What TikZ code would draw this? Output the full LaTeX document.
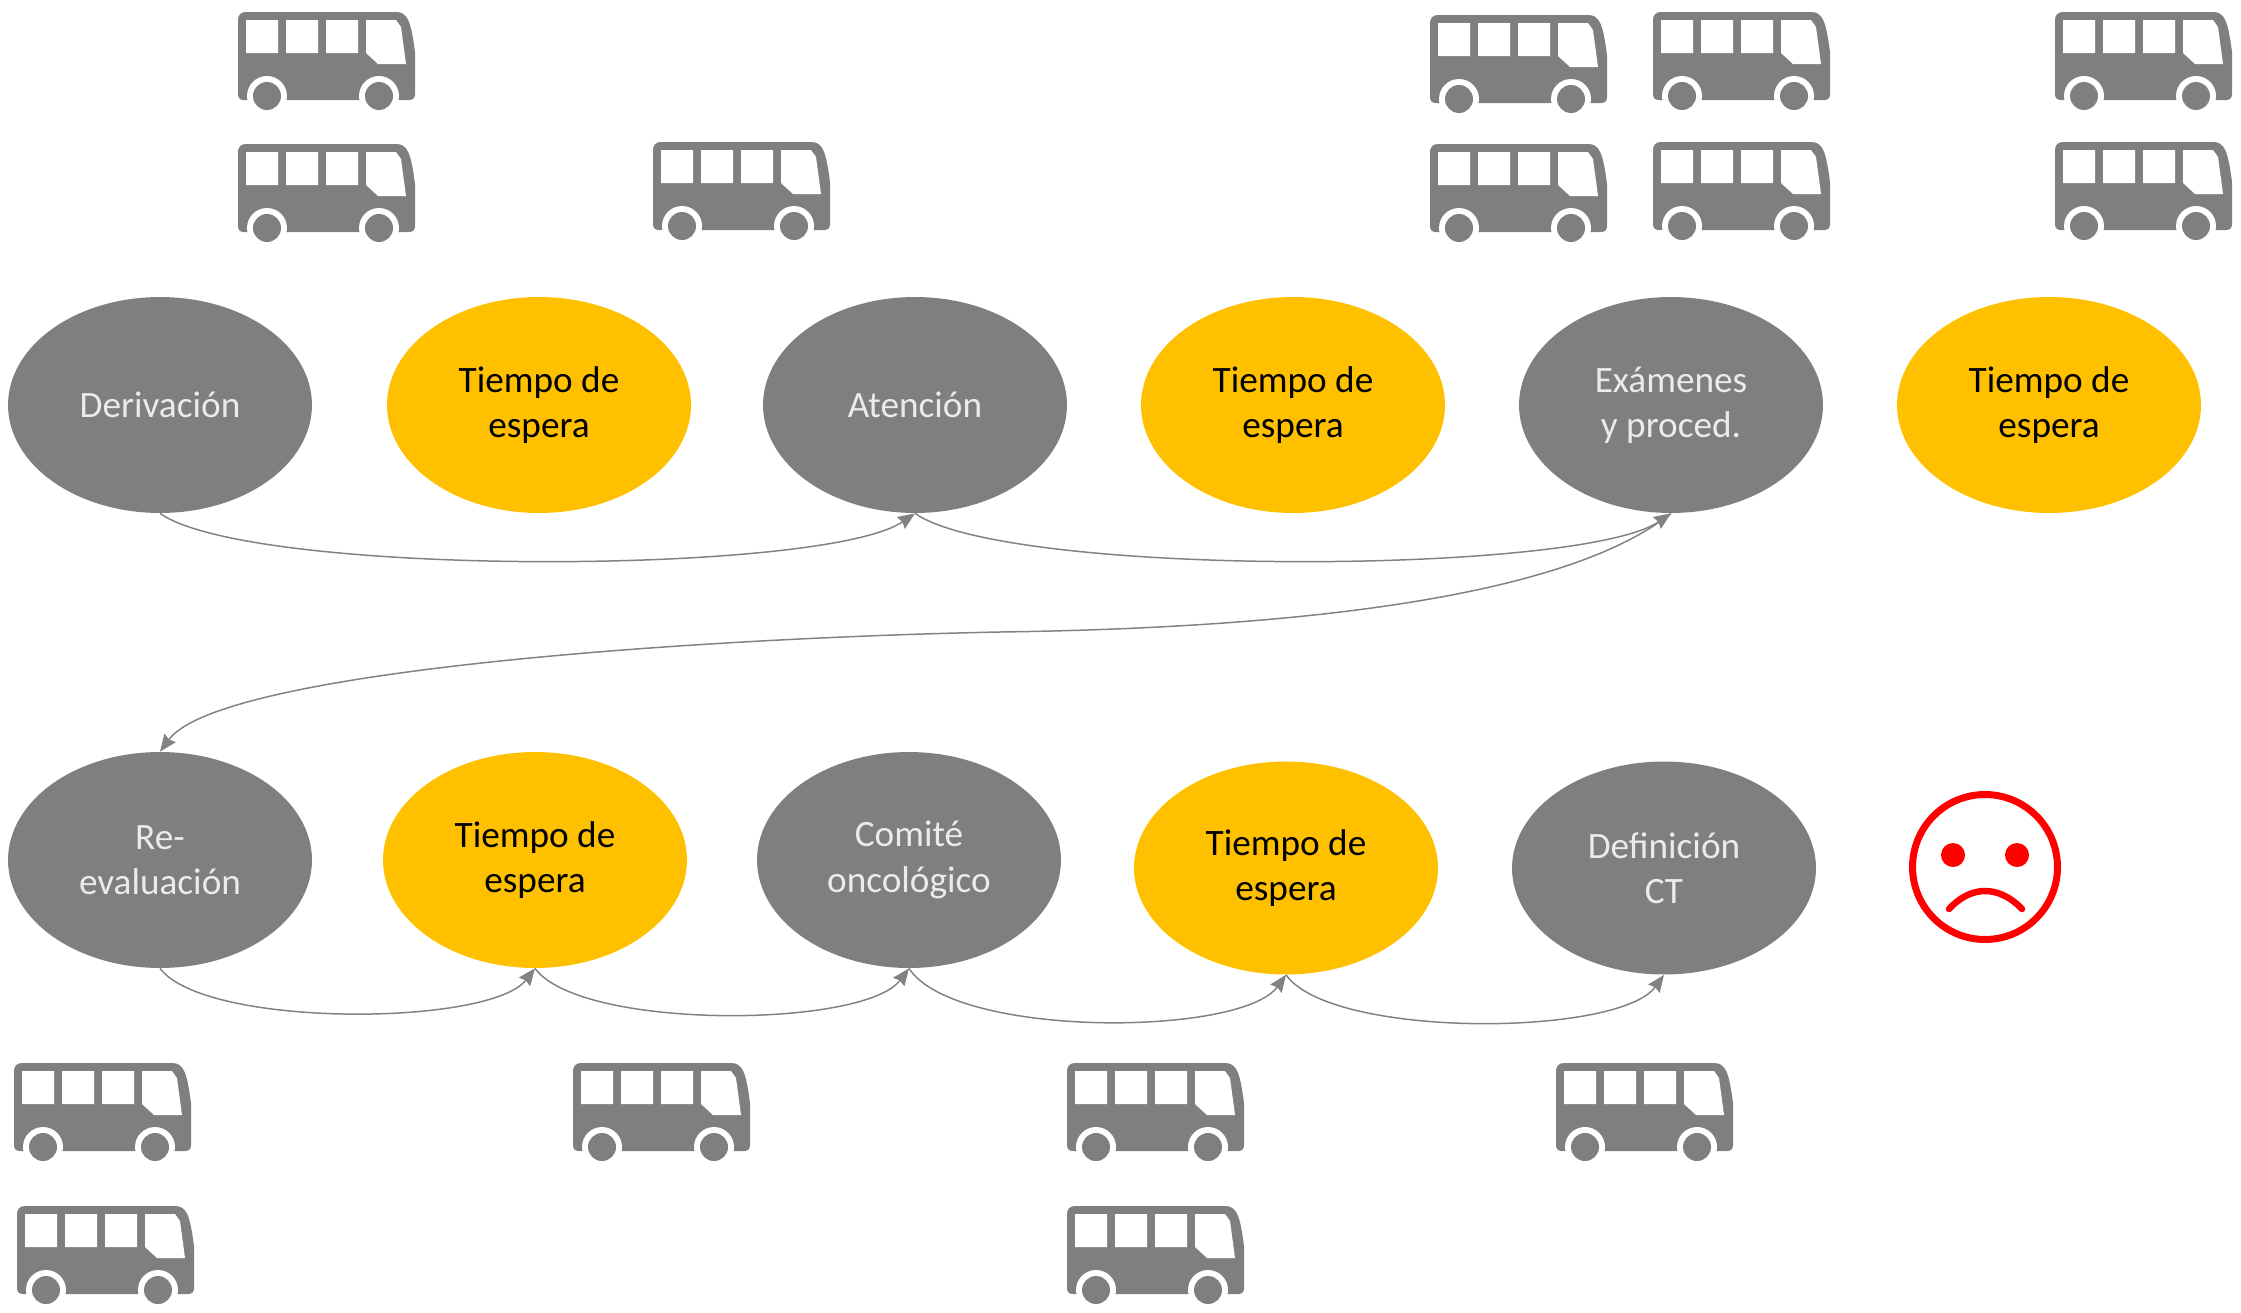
\documentclass[tikz,border=0pt]{standalone}
\usepackage{fontspec}
\setmainfont{Carlito}
\definecolor{stagegray}{RGB}{127, 127, 127}
\definecolor{waitamber}{RGB}{255, 192, 0}
\definecolor{stagetext}{RGB}{235, 235, 235}
\definecolor{linkgray}{RGB}{130, 130, 130}
\usetikzlibrary{shapes.geometric, arrows.meta}
\tikzset{
    stage/.style={ellipse, fill=stagegray, text=stagetext, inner sep=0pt,
        minimum width=6.08cm, minimum height=4.32cm, align=center,
        font=\fontsize{21.2}{25.8}\selectfont},
    waiting/.style={stage, fill=waitamber, text=black},
    link/.style={draw=linkgray, line width=.85pt,
        -{Stealth[length=.34cm, width=.28cm, inset=1pt]}},
    bus/.pic={
        \fill[stagegray] (0, 8) .. controls (0, 3) and (3, 0) .. (8, 0)
            -- (158, 0) .. controls (170, 0) and (173, 10) .. (177, 40)
            -- (177, 82) .. controls (177, 86) and (175, 88) .. (171, 88)
            -- (6, 88) .. controls (2, 88) and (0, 86) .. (0, 82) -- cycle;
        \fill[white] (29, 84) circle (.4cm) (141, 84) circle (.4cm);
        \fill[stagegray] (29, 84) circle (.28cm) (141, 84) circle (.28cm);
        \fill[white] (8, 8) rectangle (40, 41) (48, 8) rectangle (80, 41)
            (88, 8) rectangle (120, 41);
        \fill[white] (128, 8) -- (158, 8) -- (163, 15) -- (168, 52)
            -- (140, 52) -- (128, 41) -- cycle;
    },
    sadface/.pic={
        \draw[red, line width=.14cm] (0, 0) circle (1.45cm);
        \fill[red] (-32, -12) circle (.24cm) (32, -12) circle (.24cm);
        \draw[red, line width=.13cm, line cap=round] (-36, 42)
            .. controls (-14, 18) and (14, 18) .. (37, 42);
    },
}
\begin{document}
\begin{tikzpicture}[x=.02cm, y=-.02cm]
            \useasboundingbox (0, 0) rectangle (2241, 1312);
            \foreach \bx/\by in {238/12, 238/144, 653/142, 1430/15, 1653/12,
                1430/144, 1653/142, 2055/12, 2055/142, 14/1063, 17/1206,
                573/1063, 1067/1063, 1556/1063, 1067/1206}
                \pic at (\bx, \by) {bus};
            % first row
            \node[stage] (derivacion) at (160, 405) {Derivación};
            \node[waiting] (espera1) at (539, 405) {Tiempo de\\espera};
            \node[stage] (atencion) at (915, 405) {Atención};
            \node[waiting] (espera2) at (1293, 405) {Tiempo de\\espera};
            \node[stage] (examenes) at (1671, 405) {Exámenes\\y proced.};
            \node[waiting] (espera3) at (2049, 405) {Tiempo de\\espera};
            % second row
            \node[stage] (reeval) at (160, 860) {Re-\\evaluación};
            \node[waiting] (espera4) at (535, 860) {Tiempo de\\espera};
            \node[stage] (comite) at (909, 860) {Comité\\oncológico};
            \node[waiting, minimum height=4.26cm] (espera5) at (1286, 868)
                {Tiempo de\\espera};
            \node[stage, minimum height=4.26cm] (definicion) at (1664, 868)
                {Definición\\CT};
            \pic at (1985, 867) {sadface};
            \draw[link] (derivacion.south) .. controls +(90, 64) and +(-91, 62)
                .. (atencion.south);
            \draw[link] (atencion.south) .. controls +(90, 64) and +(-91, 62)
                .. (examenes.south);
            \draw[link] (examenes.south) .. controls +(-90, 72) and +(360, -5)
                .. (1000, 632) .. controls (700, 638) and (220, 670)
                .. (reeval.north);
            \draw[link] (reeval.south) .. controls +(45, 60) and +(-45, 58)
                .. (espera4.south);
            \draw[link] (espera4.south) .. controls +(45, 62) and +(-45, 60)
                .. (comite.south);
            \draw[link] (comite.south) .. controls +(45, 70) and +(-45, 62)
                .. (espera5.south);
            \draw[link] (espera5.south) .. controls +(45, 64) and +(-45, 62)
                .. (definicion.south);
        \end{tikzpicture}
\end{document}
